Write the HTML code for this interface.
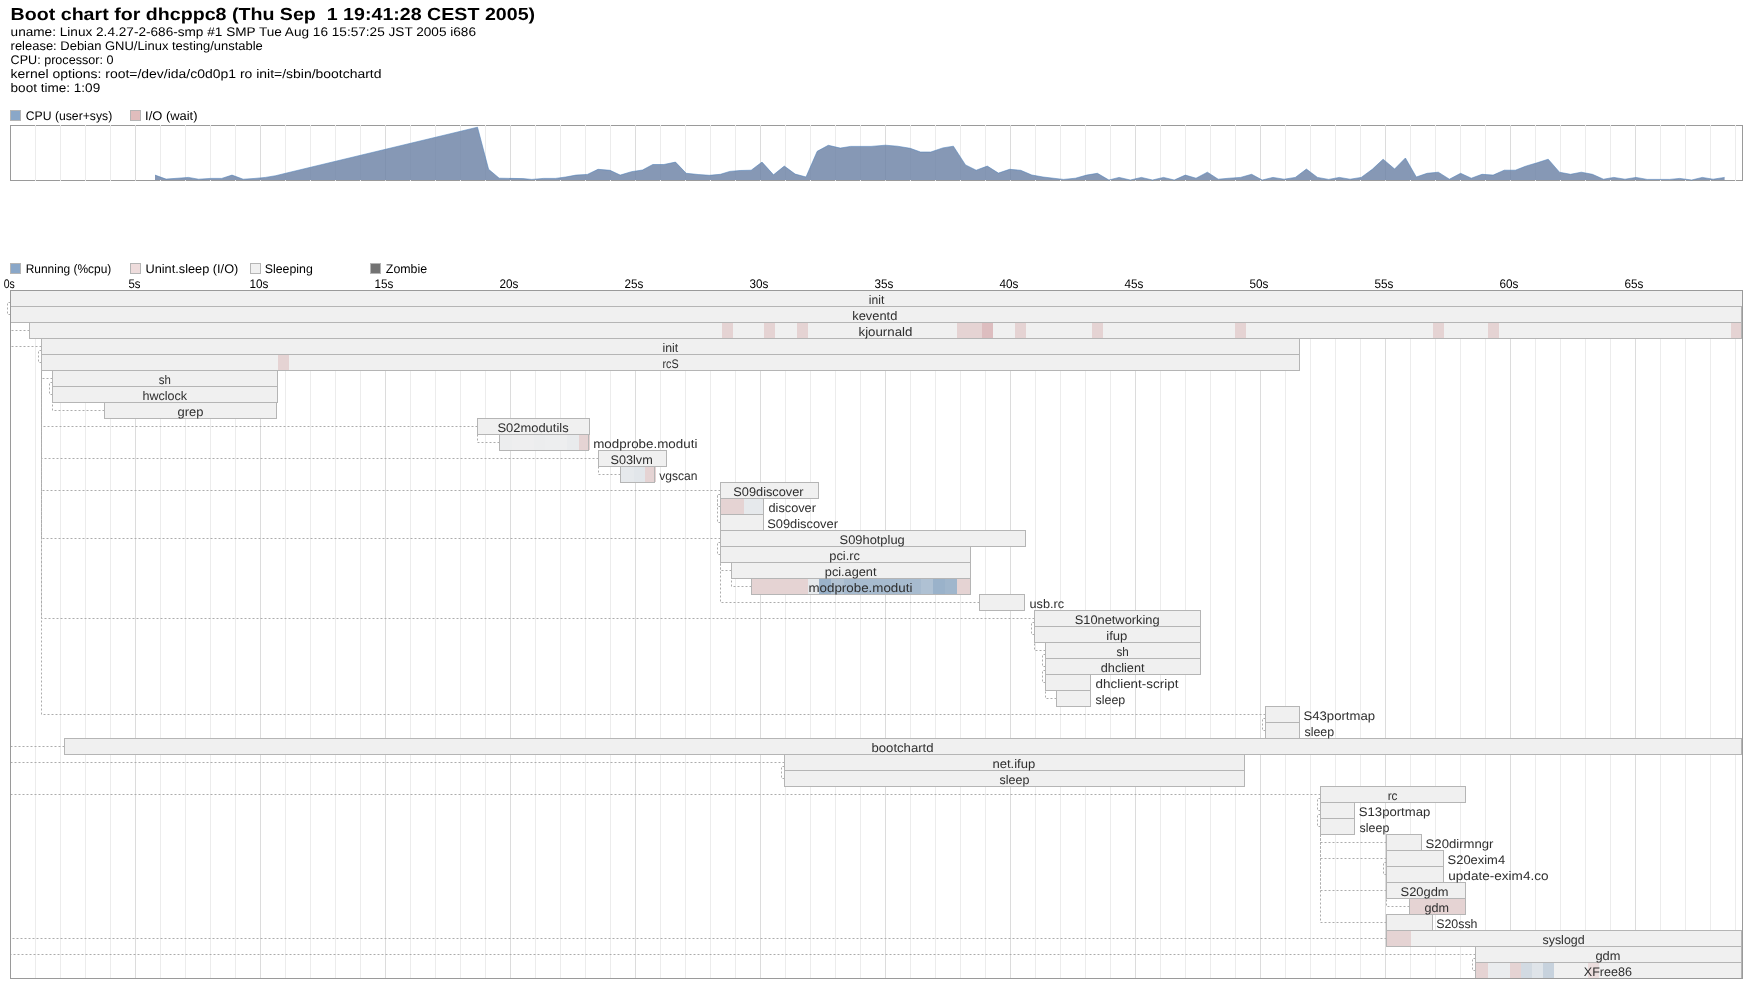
<!DOCTYPE html>
<html lang="en"><head><meta charset="utf-8"><title>Boot chart</title>
<style>html,body{margin:0;padding:0;background:#fff}svg{display:block}text{font-family:"Liberation Sans",sans-serif}</style>
</head><body>
<svg width="1752" height="988" viewBox="0 0 1752 988" shape-rendering="crispEdges" text-rendering="geometricPrecision">
<rect width="1752" height="988" fill="#fff"/>
<rect x="10.5" y="110.5" width="10" height="10" fill="#8aa7c8" stroke="#b5b5b5"/>
<rect x="130.5" y="110.5" width="10" height="10" fill="#e0bdbd" stroke="#b5b5b5"/>
<rect x="10.5" y="263.5" width="10" height="10" fill="#8aa7c8" stroke="#b5b5b5"/>
<rect x="130.5" y="263.5" width="10" height="10" fill="#eedcdc" stroke="#b5b5b5"/>
<rect x="250.5" y="263.5" width="10" height="10" fill="#f0f0f0" stroke="#b5b5b5"/>
<rect x="370.5" y="263.5" width="10" height="10" fill="#737373" stroke="#b5b5b5"/>
<rect x="10.5" y="125.5" width="1732.0" height="55.0" fill="#fff" stroke="#9a9a9a"/>
<path d="M35.5 125.0V181.0M60.5 125.0V181.0M85.5 125.0V181.0M110.5 125.0V181.0M160.5 125.0V181.0M185.5 125.0V181.0M210.5 125.0V181.0M235.5 125.0V181.0M285.5 125.0V181.0M310.5 125.0V181.0M335.5 125.0V181.0M360.5 125.0V181.0M410.5 125.0V181.0M435.5 125.0V181.0M460.5 125.0V181.0M485.5 125.0V181.0M535.5 125.0V181.0M560.5 125.0V181.0M585.5 125.0V181.0M610.5 125.0V181.0M660.5 125.0V181.0M685.5 125.0V181.0M710.5 125.0V181.0M735.5 125.0V181.0M785.5 125.0V181.0M810.5 125.0V181.0M835.5 125.0V181.0M860.5 125.0V181.0M910.5 125.0V181.0M935.5 125.0V181.0M960.5 125.0V181.0M985.5 125.0V181.0M1035.5 125.0V181.0M1060.5 125.0V181.0M1085.5 125.0V181.0M1110.5 125.0V181.0M1160.5 125.0V181.0M1185.5 125.0V181.0M1210.5 125.0V181.0M1235.5 125.0V181.0M1285.5 125.0V181.0M1310.5 125.0V181.0M1335.5 125.0V181.0M1360.5 125.0V181.0M1410.5 125.0V181.0M1435.5 125.0V181.0M1460.5 125.0V181.0M1485.5 125.0V181.0M1535.5 125.0V181.0M1560.5 125.0V181.0M1585.5 125.0V181.0M1610.5 125.0V181.0M1660.5 125.0V181.0M1685.5 125.0V181.0M1710.5 125.0V181.0M1735.5 125.0V181.0" stroke="#ececec" fill="none"/>
<path d="M135.5 125.0V181.0M260.5 125.0V181.0M385.5 125.0V181.0M510.5 125.0V181.0M635.5 125.0V181.0M760.5 125.0V181.0M885.5 125.0V181.0M1010.5 125.0V181.0M1135.5 125.0V181.0M1260.5 125.0V181.0M1385.5 125.0V181.0M1510.5 125.0V181.0M1635.5 125.0V181.0" stroke="#dcdcdc" fill="none"/>
<path d="M155 180 L155 175.1 L166.1 179.1 L178 178.2 L188.4 177.4 L198.6 179.2 L210.6 178.4 L221.7 178.4 L232 175.1 L243.2 179.2 L255 178.4 L265.4 177.4 L275.7 175.7 L290 172.2 L477.5 127.2 L488.6 169.3 L499.2 178.2 L522.9 178.6 L531.8 179.4 L543.4 178.4 L555.4 178.4 L565.7 177 L576 175.1 L587.4 174.4 L598 169.3 L610 170.3 L620.2 175.1 L631.4 171.7 L642.5 170 L652.8 164.5 L663.9 164.5 L675.5 162.1 L686.2 173.3 L698.2 174.5 L709.3 175.3 L720.4 174.3 L729.8 171.4 L740.1 170.5 L751.2 170.2 L762 162.1 L773.5 174.8 L784.3 166.1 L795.2 174.1 L806 177 L817.2 151.3 L828.3 145.3 L840.3 148.1 L850.5 146.4 L871 146.4 L885.4 145.2 L897.4 146.2 L910.2 148.3 L920.5 152 L930.8 152 L942.8 147.9 L953.4 146.2 L965.5 164.9 L976.2 170.2 L987.3 166.1 L998.4 173.1 L1009.6 169.3 L1020.7 170.3 L1031.8 175 L1043 177 L1063.5 179.4 L1075.5 178.2 L1086.6 175.1 L1097.4 173.3 L1108.9 180 L1119.1 177.4 L1130.3 180 L1141.4 177.4 L1152.5 180 L1163.5 177.4 L1174.2 180 L1185.3 175.1 L1196 178.2 L1207.4 172.2 L1218.2 179.2 L1229.3 178.2 L1240.5 177.4 L1251.6 174.3 L1262.2 180 L1273 177.4 L1284.1 179.2 L1295.3 177.4 L1306.4 169.1 L1317.5 177.4 L1328.7 179.4 L1339.3 177.4 L1350.1 179.2 L1361.2 177.4 L1372.3 169.3 L1383.1 159.2 L1394.6 169 L1405.4 158 L1416.3 177 L1427.1 173.3 L1438.3 172.2 L1449.4 179.2 L1460.6 173.3 L1471.3 178.2 L1482 174.3 L1493.1 175.1 L1504.2 170.2 L1515.4 170.2 L1526.5 165.9 L1537.1 162.8 L1548.2 159.2 L1559.5 172.2 L1570.5 174.3 L1581.3 172.2 L1592.4 174.3 L1603.5 179.2 L1613.8 177.4 L1625 179.2 L1636 177.4 L1647.2 179.4 L1669.5 179.4 L1679.7 178.4 L1691.7 180 L1702.3 177.4 L1713.1 179.2 L1724.6 177.4 L1724.6 180Z" fill="#6d83a6" fill-opacity="0.83" shape-rendering="geometricPrecision"/>
<path d="M155 175.1 L166.1 179.1 L178 178.2 L188.4 177.4 L198.6 179.2 L210.6 178.4 L221.7 178.4 L232 175.1 L243.2 179.2 L255 178.4 L265.4 177.4 L275.7 175.7 L290 172.2 L477.5 127.2 L488.6 169.3 L499.2 178.2 L522.9 178.6 L531.8 179.4 L543.4 178.4 L555.4 178.4 L565.7 177 L576 175.1 L587.4 174.4 L598 169.3 L610 170.3 L620.2 175.1 L631.4 171.7 L642.5 170 L652.8 164.5 L663.9 164.5 L675.5 162.1 L686.2 173.3 L698.2 174.5 L709.3 175.3 L720.4 174.3 L729.8 171.4 L740.1 170.5 L751.2 170.2 L762 162.1 L773.5 174.8 L784.3 166.1 L795.2 174.1 L806 177 L817.2 151.3 L828.3 145.3 L840.3 148.1 L850.5 146.4 L871 146.4 L885.4 145.2 L897.4 146.2 L910.2 148.3 L920.5 152 L930.8 152 L942.8 147.9 L953.4 146.2 L965.5 164.9 L976.2 170.2 L987.3 166.1 L998.4 173.1 L1009.6 169.3 L1020.7 170.3 L1031.8 175 L1043 177 L1063.5 179.4 L1075.5 178.2 L1086.6 175.1 L1097.4 173.3 L1108.9 180 L1119.1 177.4 L1130.3 180 L1141.4 177.4 L1152.5 180 L1163.5 177.4 L1174.2 180 L1185.3 175.1 L1196 178.2 L1207.4 172.2 L1218.2 179.2 L1229.3 178.2 L1240.5 177.4 L1251.6 174.3 L1262.2 180 L1273 177.4 L1284.1 179.2 L1295.3 177.4 L1306.4 169.1 L1317.5 177.4 L1328.7 179.4 L1339.3 177.4 L1350.1 179.2 L1361.2 177.4 L1372.3 169.3 L1383.1 159.2 L1394.6 169 L1405.4 158 L1416.3 177 L1427.1 173.3 L1438.3 172.2 L1449.4 179.2 L1460.6 173.3 L1471.3 178.2 L1482 174.3 L1493.1 175.1 L1504.2 170.2 L1515.4 170.2 L1526.5 165.9 L1537.1 162.8 L1548.2 159.2 L1559.5 172.2 L1570.5 174.3 L1581.3 172.2 L1592.4 174.3 L1603.5 179.2 L1613.8 177.4 L1625 179.2 L1636 177.4 L1647.2 179.4 L1669.5 179.4 L1679.7 178.4 L1691.7 180 L1702.3 177.4 L1713.1 179.2 L1724.6 177.4" fill="none" stroke="#4f7fb8" stroke-opacity="0.55" stroke-width="1" stroke-linejoin="round" shape-rendering="geometricPrecision"/>
<rect x="10.5" y="290.5" width="1732.0" height="688.0" fill="#fff"/>
<path d="M35.5 290.5V978.5M60.5 290.5V978.5M85.5 290.5V978.5M110.5 290.5V978.5M160.5 290.5V978.5M185.5 290.5V978.5M210.5 290.5V978.5M235.5 290.5V978.5M285.5 290.5V978.5M310.5 290.5V978.5M335.5 290.5V978.5M360.5 290.5V978.5M410.5 290.5V978.5M435.5 290.5V978.5M460.5 290.5V978.5M485.5 290.5V978.5M535.5 290.5V978.5M560.5 290.5V978.5M585.5 290.5V978.5M610.5 290.5V978.5M660.5 290.5V978.5M685.5 290.5V978.5M710.5 290.5V978.5M735.5 290.5V978.5M785.5 290.5V978.5M810.5 290.5V978.5M835.5 290.5V978.5M860.5 290.5V978.5M910.5 290.5V978.5M935.5 290.5V978.5M960.5 290.5V978.5M985.5 290.5V978.5M1035.5 290.5V978.5M1060.5 290.5V978.5M1085.5 290.5V978.5M1110.5 290.5V978.5M1160.5 290.5V978.5M1185.5 290.5V978.5M1210.5 290.5V978.5M1235.5 290.5V978.5M1285.5 290.5V978.5M1310.5 290.5V978.5M1335.5 290.5V978.5M1360.5 290.5V978.5M1410.5 290.5V978.5M1435.5 290.5V978.5M1460.5 290.5V978.5M1485.5 290.5V978.5M1535.5 290.5V978.5M1560.5 290.5V978.5M1585.5 290.5V978.5M1610.5 290.5V978.5M1660.5 290.5V978.5M1685.5 290.5V978.5M1710.5 290.5V978.5M1735.5 290.5V978.5" stroke="#ececec" fill="none"/>
<path d="M135.5 290.5V978.5M260.5 290.5V978.5M385.5 290.5V978.5M510.5 290.5V978.5M635.5 290.5V978.5M760.5 290.5V978.5M885.5 290.5V978.5M1010.5 290.5V978.5M1135.5 290.5V978.5M1260.5 290.5V978.5M1385.5 290.5V978.5M1510.5 290.5V978.5M1635.5 290.5V978.5" stroke="#dcdcdc" fill="none"/>
<path d="M10.5 314.5H7.5V302.5H10.5M29.5 330.5H10.5V306.5M41.5 346.5H10.5V306.5M41.5 362.5H38.5V350.5H41.5M52.5 378.5H41.5V370.5M52.5 394.5H49.5V382.5H52.5M104.5 410.5H52.5V402.5M477.5 426.5H41.5V370.5M499.5 442.5H477.5V434.5M598.5 458.5H41.5V370.5M620.5 474.5H598.5V466.5M720.5 490.5H41.5V370.5M720.5 506.5H717.5V494.5H720.5M720.5 522.5H717.5V494.5H720.5M720.5 538.5H41.5V370.5M720.5 554.5H717.5V542.5H720.5M731.5 570.5H720.5V562.5M751.5 586.5H731.5V578.5M979.5 602.5H720.5V562.5M1034.5 618.5H41.5V370.5M1034.5 634.5H1031.5V622.5H1034.5M1045.5 650.5H1034.5V642.5M1045.5 666.5H1042.5V654.5H1045.5M1045.5 682.5H1042.5V670.5H1045.5M1056.5 698.5H1045.5V690.5M1265.5 714.5H41.5V370.5M1265.5 730.5H1262.5V718.5H1265.5M64.5 746.5H10.5V306.5M784.5 762.5H10.5V306.5M784.5 778.5H781.5V766.5H784.5M1320.5 794.5H10.5V306.5M1320.5 810.5H1317.5V798.5H1320.5M1320.5 826.5H1317.5V814.5H1320.5M1386.5 842.5H1320.5V802.5M1386.5 858.5H1320.5V802.5M1386.5 874.5H1383.5V862.5H1386.5M1386.5 890.5H1320.5V802.5M1409.5 906.5H1386.5V898.5M1386.5 922.5H1320.5V802.5M1386.5 938.5H10.5V306.5M1475.5 954.5H10.5V306.5M1475.5 970.5H1472.5V958.5H1475.5" fill="none" stroke="#acacac" stroke-dasharray="2 2" shape-rendering="geometricPrecision"/>
<rect x="10.5" y="290.5" width="1732" height="16" fill="#f0f0f0"/>
<rect x="10.5" y="290.5" width="1732" height="16" fill="none" stroke="#b5b5b5"/>
<rect x="10.5" y="306.5" width="1731" height="16" fill="#f0f0f0"/>
<rect x="10.5" y="306.5" width="1731" height="16" fill="none" stroke="#b5b5b5"/>
<rect x="29.5" y="322.5" width="1712" height="16" fill="#f0f0f0"/>
<rect x="722" y="323.0" width="11" height="15" fill="#e5d3d3"/>
<rect x="764" y="323.0" width="11" height="15" fill="#e5d3d3"/>
<rect x="797" y="323.0" width="11" height="15" fill="#e5d3d3"/>
<rect x="957" y="323.0" width="25" height="15" fill="#e5d3d3"/>
<rect x="982" y="323.0" width="11" height="15" fill="#ddbdbf"/>
<rect x="1015" y="323.0" width="11" height="15" fill="#e5d3d3"/>
<rect x="1092" y="323.0" width="11" height="15" fill="#e5d3d3"/>
<rect x="1235" y="323.0" width="11" height="15" fill="#e5d3d3"/>
<rect x="1433" y="323.0" width="11" height="15" fill="#e5d3d3"/>
<rect x="1488" y="323.0" width="11" height="15" fill="#e5d3d3"/>
<rect x="1731" y="323.0" width="10" height="15" fill="#e5d3d3"/>
<rect x="29.5" y="322.5" width="1712" height="16" fill="none" stroke="#b5b5b5"/>
<rect x="41.5" y="338.5" width="1258" height="16" fill="#f0f0f0"/>
<rect x="41.5" y="338.5" width="1258" height="16" fill="none" stroke="#b5b5b5"/>
<rect x="41.5" y="354.5" width="1258" height="16" fill="#f0f0f0"/>
<rect x="278" y="355.0" width="11" height="15" fill="#e5d3d3"/>
<rect x="41.5" y="354.5" width="1258" height="16" fill="none" stroke="#b5b5b5"/>
<rect x="52.5" y="370.5" width="225" height="16" fill="#f0f0f0"/>
<rect x="52.5" y="370.5" width="225" height="16" fill="none" stroke="#b5b5b5"/>
<rect x="52.5" y="386.5" width="225" height="16" fill="#f0f0f0"/>
<rect x="52.5" y="386.5" width="225" height="16" fill="none" stroke="#b5b5b5"/>
<rect x="104.5" y="402.5" width="172" height="16" fill="#f0f0f0"/>
<rect x="104.5" y="402.5" width="172" height="16" fill="none" stroke="#b5b5b5"/>
<rect x="477.5" y="418.5" width="112" height="16" fill="#f0f0f0"/>
<rect x="477.5" y="418.5" width="112" height="16" fill="none" stroke="#b5b5b5"/>
<rect x="499.5" y="434.5" width="89" height="16" fill="#f0f0f0"/>
<rect x="499" y="435.0" width="13" height="15" fill="#ecedee"/>
<rect x="512" y="435.0" width="22" height="15" fill="#eeeeef"/>
<rect x="534" y="435.0" width="11" height="15" fill="#ecedee"/>
<rect x="545" y="435.0" width="22" height="15" fill="#edeeef"/>
<rect x="567" y="435.0" width="12" height="15" fill="#e9ebed"/>
<rect x="579" y="435.0" width="10.5" height="15" fill="#e5d3d3"/>
<rect x="499.5" y="434.5" width="89" height="16" fill="none" stroke="#b5b5b5"/>
<rect x="598.5" y="450.5" width="68" height="16" fill="#f0f0f0"/>
<rect x="598.5" y="450.5" width="68" height="16" fill="none" stroke="#b5b5b5"/>
<rect x="620.5" y="466.5" width="34" height="16" fill="#f0f0f0"/>
<rect x="620" y="467.0" width="14" height="15" fill="#e6e9ec"/>
<rect x="634" y="467.0" width="11" height="15" fill="#e2e6ea"/>
<rect x="645" y="467.0" width="10.5" height="15" fill="#e5d3d3"/>
<rect x="620.5" y="466.5" width="34" height="16" fill="none" stroke="#b5b5b5"/>
<rect x="720.5" y="482.5" width="98" height="16" fill="#f0f0f0"/>
<rect x="720.5" y="482.5" width="98" height="16" fill="none" stroke="#b5b5b5"/>
<rect x="720.5" y="498.5" width="43" height="16" fill="#f0f0f0"/>
<rect x="720" y="499.0" width="24" height="15" fill="#e5d3d3"/>
<rect x="744" y="499.0" width="19" height="15" fill="#e6e9ec"/>
<rect x="720.5" y="498.5" width="43" height="16" fill="none" stroke="#b5b5b5"/>
<rect x="720.5" y="514.5" width="43" height="16" fill="#f0f0f0"/>
<rect x="720.5" y="514.5" width="43" height="16" fill="none" stroke="#b5b5b5"/>
<rect x="720.5" y="530.5" width="305" height="16" fill="#f0f0f0"/>
<rect x="720.5" y="530.5" width="305" height="16" fill="none" stroke="#b5b5b5"/>
<rect x="720.5" y="546.5" width="250" height="16" fill="#f0f0f0"/>
<rect x="720.5" y="546.5" width="250" height="16" fill="none" stroke="#b5b5b5"/>
<rect x="731.5" y="562.5" width="239" height="16" fill="#f0f0f0"/>
<rect x="731.5" y="562.5" width="239" height="16" fill="none" stroke="#b5b5b5"/>
<rect x="751.5" y="578.5" width="219" height="16" fill="#f0f0f0"/>
<rect x="751" y="579.0" width="57" height="15" fill="#e5d3d3"/>
<rect x="808" y="579.0" width="11" height="15" fill="#e6e9ec"/>
<rect x="819" y="579.0" width="12" height="15" fill="#9ab2ca"/>
<rect x="831" y="579.0" width="13" height="15" fill="#b2c3d4"/>
<rect x="844" y="579.0" width="77" height="15" fill="#a7bbcf"/>
<rect x="921" y="579.0" width="12" height="15" fill="#afc1d3"/>
<rect x="933" y="579.0" width="12" height="15" fill="#9ab2ca"/>
<rect x="945" y="579.0" width="12" height="15" fill="#a0b6cc"/>
<rect x="957" y="579.0" width="13" height="15" fill="#e5d3d3"/>
<rect x="751.5" y="578.5" width="219" height="16" fill="none" stroke="#b5b5b5"/>
<rect x="979.5" y="594.5" width="45" height="16" fill="#f0f0f0"/>
<rect x="979.5" y="594.5" width="45" height="16" fill="none" stroke="#b5b5b5"/>
<rect x="1034.5" y="610.5" width="166" height="16" fill="#f0f0f0"/>
<rect x="1034.5" y="610.5" width="166" height="16" fill="none" stroke="#b5b5b5"/>
<rect x="1034.5" y="626.5" width="166" height="16" fill="#f0f0f0"/>
<rect x="1034.5" y="626.5" width="166" height="16" fill="none" stroke="#b5b5b5"/>
<rect x="1045.5" y="642.5" width="155" height="16" fill="#f0f0f0"/>
<rect x="1045.5" y="642.5" width="155" height="16" fill="none" stroke="#b5b5b5"/>
<rect x="1045.5" y="658.5" width="155" height="16" fill="#f0f0f0"/>
<rect x="1045.5" y="658.5" width="155" height="16" fill="none" stroke="#b5b5b5"/>
<rect x="1045.5" y="674.5" width="45" height="16" fill="#f0f0f0"/>
<rect x="1045.5" y="674.5" width="45" height="16" fill="none" stroke="#b5b5b5"/>
<rect x="1056.5" y="690.5" width="34" height="16" fill="#f0f0f0"/>
<rect x="1056.5" y="690.5" width="34" height="16" fill="none" stroke="#b5b5b5"/>
<rect x="1265.5" y="706.5" width="34" height="16" fill="#f0f0f0"/>
<rect x="1265.5" y="706.5" width="34" height="16" fill="none" stroke="#b5b5b5"/>
<rect x="1265.5" y="722.5" width="34" height="16" fill="#f0f0f0"/>
<rect x="1265.5" y="722.5" width="34" height="16" fill="none" stroke="#b5b5b5"/>
<rect x="64.5" y="738.5" width="1677" height="16" fill="#f0f0f0"/>
<rect x="64.5" y="738.5" width="1677" height="16" fill="none" stroke="#b5b5b5"/>
<rect x="784.5" y="754.5" width="460" height="16" fill="#f0f0f0"/>
<rect x="784.5" y="754.5" width="460" height="16" fill="none" stroke="#b5b5b5"/>
<rect x="784.5" y="770.5" width="460" height="16" fill="#f0f0f0"/>
<rect x="784.5" y="770.5" width="460" height="16" fill="none" stroke="#b5b5b5"/>
<rect x="1320.5" y="786.5" width="145" height="16" fill="#f0f0f0"/>
<rect x="1320.5" y="786.5" width="145" height="16" fill="none" stroke="#b5b5b5"/>
<rect x="1320.5" y="802.5" width="34" height="16" fill="#f0f0f0"/>
<rect x="1320.5" y="802.5" width="34" height="16" fill="none" stroke="#b5b5b5"/>
<rect x="1320.5" y="818.5" width="34" height="16" fill="#f0f0f0"/>
<rect x="1320.5" y="818.5" width="34" height="16" fill="none" stroke="#b5b5b5"/>
<rect x="1386.5" y="834.5" width="35" height="16" fill="#f0f0f0"/>
<rect x="1386.5" y="834.5" width="35" height="16" fill="none" stroke="#b5b5b5"/>
<rect x="1386.5" y="850.5" width="57" height="16" fill="#f0f0f0"/>
<rect x="1386.5" y="850.5" width="57" height="16" fill="none" stroke="#b5b5b5"/>
<rect x="1386.5" y="866.5" width="57" height="16" fill="#f0f0f0"/>
<rect x="1386.5" y="866.5" width="57" height="16" fill="none" stroke="#b5b5b5"/>
<rect x="1386.5" y="882.5" width="79" height="16" fill="#f0f0f0"/>
<rect x="1386.5" y="882.5" width="79" height="16" fill="none" stroke="#b5b5b5"/>
<rect x="1409.5" y="898.5" width="56" height="16" fill="#f0f0f0"/>
<rect x="1409" y="899.0" width="56" height="15" fill="#e5d3d3"/>
<rect x="1409.5" y="898.5" width="56" height="16" fill="none" stroke="#b5b5b5"/>
<rect x="1386.5" y="914.5" width="46" height="16" fill="#f0f0f0"/>
<rect x="1386.5" y="914.5" width="46" height="16" fill="none" stroke="#b5b5b5"/>
<rect x="1386.5" y="930.5" width="355" height="16" fill="#f0f0f0"/>
<rect x="1386" y="931.0" width="25" height="15" fill="#e5d3d3"/>
<rect x="1386.5" y="930.5" width="355" height="16" fill="none" stroke="#b5b5b5"/>
<rect x="1475.5" y="946.5" width="266" height="16" fill="#f0f0f0"/>
<rect x="1475.5" y="946.5" width="266" height="16" fill="none" stroke="#b5b5b5"/>
<rect x="1475.5" y="962.5" width="266" height="16" fill="#f0f0f0"/>
<rect x="1475" y="963.0" width="13" height="15" fill="#e5d3d3"/>
<rect x="1488" y="963.0" width="22" height="15" fill="#eaecee"/>
<rect x="1510" y="963.0" width="11" height="15" fill="#e5d3d3"/>
<rect x="1521" y="963.0" width="11" height="15" fill="#d2dae2"/>
<rect x="1532" y="963.0" width="11" height="15" fill="#dfe4e9"/>
<rect x="1543" y="963.0" width="11" height="15" fill="#c7d2dd"/>
<rect x="1588" y="963.0" width="11" height="15" fill="#ebdddd"/>
<rect x="1475.5" y="962.5" width="266" height="16" fill="none" stroke="#b5b5b5"/>
<path d="M10.5 290.5H1742.5V978.5H10.5Z" fill="none" stroke="#9a9a9a"/>
<g style="filter:grayscale(1);will-change:transform">
<text x="10.6" y="19.7" font-size="17.4" fill="#000" xml:space="preserve" textLength="524.5" lengthAdjust="spacingAndGlyphs" font-weight="bold">Boot chart for dhcppc8 (Thu Sep  1 19:41:28 CEST 2005)</text>
<text x="10.6" y="36.0" font-size="12.5" fill="#000" xml:space="preserve" textLength="465.4" lengthAdjust="spacingAndGlyphs">uname: Linux 2.4.27-2-686-smp #1 SMP Tue Aug 16 15:57:25 JST 2005 i686</text>
<text x="10.6" y="50.0" font-size="12.5" fill="#000" xml:space="preserve" textLength="252.2" lengthAdjust="spacingAndGlyphs">release: Debian GNU/Linux testing/unstable</text>
<text x="10.6" y="64.0" font-size="12.5" fill="#000" xml:space="preserve" textLength="102.8" lengthAdjust="spacingAndGlyphs">CPU: processor: 0</text>
<text x="10.6" y="78.0" font-size="12.5" fill="#000" xml:space="preserve" textLength="370.9" lengthAdjust="spacingAndGlyphs">kernel options: root=/dev/ida/c0d0p1 ro init=/sbin/bootchartd</text>
<text x="10.6" y="92.0" font-size="12.5" fill="#000" xml:space="preserve" textLength="89.6" lengthAdjust="spacingAndGlyphs">boot time: 1:09</text>
<text x="25.8" y="120.0" font-size="12.5" fill="#000" xml:space="preserve" textLength="86.4" lengthAdjust="spacingAndGlyphs">CPU (user+sys)</text>
<text x="145.1" y="120.0" font-size="12.5" fill="#000" xml:space="preserve" textLength="52.4" lengthAdjust="spacingAndGlyphs">I/O (wait)</text>
<text x="25.7" y="273.0" font-size="12.5" fill="#000" xml:space="preserve" textLength="85.6" lengthAdjust="spacingAndGlyphs">Running (%cpu)</text>
<text x="145.5" y="273.0" font-size="12.5" fill="#000" xml:space="preserve" textLength="92.8" lengthAdjust="spacingAndGlyphs">Unint.sleep (I/O)</text>
<text x="264.8" y="273.0" font-size="12.5" fill="#000" xml:space="preserve" textLength="48.0" lengthAdjust="spacingAndGlyphs">Sleeping</text>
<text x="385.8" y="273.0" font-size="12.5" fill="#000" xml:space="preserve" textLength="41.4" lengthAdjust="spacingAndGlyphs">Zombie</text>
<text x="3.7" y="288.0" font-size="12.5" fill="#000" xml:space="preserve" textLength="11.1" lengthAdjust="spacingAndGlyphs">0s</text>
<text x="128.4" y="288.0" font-size="12.5" fill="#000" xml:space="preserve" textLength="12.0" lengthAdjust="spacingAndGlyphs">5s</text>
<text x="249.5" y="288.0" font-size="12.5" fill="#000" xml:space="preserve" textLength="18.9" lengthAdjust="spacingAndGlyphs">10s</text>
<text x="374.5" y="288.0" font-size="12.5" fill="#000" xml:space="preserve" textLength="18.9" lengthAdjust="spacingAndGlyphs">15s</text>
<text x="499.5" y="288.0" font-size="12.5" fill="#000" xml:space="preserve" textLength="18.9" lengthAdjust="spacingAndGlyphs">20s</text>
<text x="624.5" y="288.0" font-size="12.5" fill="#000" xml:space="preserve" textLength="18.9" lengthAdjust="spacingAndGlyphs">25s</text>
<text x="749.5" y="288.0" font-size="12.5" fill="#000" xml:space="preserve" textLength="18.9" lengthAdjust="spacingAndGlyphs">30s</text>
<text x="874.5" y="288.0" font-size="12.5" fill="#000" xml:space="preserve" textLength="18.9" lengthAdjust="spacingAndGlyphs">35s</text>
<text x="999.5" y="288.0" font-size="12.5" fill="#000" xml:space="preserve" textLength="18.9" lengthAdjust="spacingAndGlyphs">40s</text>
<text x="1124.5" y="288.0" font-size="12.5" fill="#000" xml:space="preserve" textLength="18.9" lengthAdjust="spacingAndGlyphs">45s</text>
<text x="1249.5" y="288.0" font-size="12.5" fill="#000" xml:space="preserve" textLength="18.9" lengthAdjust="spacingAndGlyphs">50s</text>
<text x="1374.5" y="288.0" font-size="12.5" fill="#000" xml:space="preserve" textLength="18.9" lengthAdjust="spacingAndGlyphs">55s</text>
<text x="1499.5" y="288.0" font-size="12.5" fill="#000" xml:space="preserve" textLength="18.9" lengthAdjust="spacingAndGlyphs">60s</text>
<text x="1624.5" y="288.0" font-size="12.5" fill="#000" xml:space="preserve" textLength="18.9" lengthAdjust="spacingAndGlyphs">65s</text>
<text x="868.8" y="303.8" font-size="12.4" fill="#2e2e2e" xml:space="preserve" textLength="15.5" lengthAdjust="spacingAndGlyphs">init</text>
<text x="852.3" y="319.8" font-size="12.4" fill="#2e2e2e" xml:space="preserve" textLength="45.0" lengthAdjust="spacingAndGlyphs">keventd</text>
<text x="858.5" y="335.8" font-size="12.4" fill="#2e2e2e" xml:space="preserve" textLength="53.9" lengthAdjust="spacingAndGlyphs">kjournald</text>
<text x="662.5" y="351.8" font-size="12.4" fill="#2e2e2e" xml:space="preserve" textLength="15.7" lengthAdjust="spacingAndGlyphs">init</text>
<text x="662.5" y="367.8" font-size="12.4" fill="#2e2e2e" xml:space="preserve" textLength="16.1" lengthAdjust="spacingAndGlyphs">rcS</text>
<text x="158.7" y="383.8" font-size="12.4" fill="#2e2e2e" xml:space="preserve" textLength="12.1" lengthAdjust="spacingAndGlyphs">sh</text>
<text x="142.4" y="399.8" font-size="12.4" fill="#2e2e2e" xml:space="preserve" textLength="44.7" lengthAdjust="spacingAndGlyphs">hwclock</text>
<text x="177.5" y="415.8" font-size="12.4" fill="#2e2e2e" xml:space="preserve" textLength="25.9" lengthAdjust="spacingAndGlyphs">grep</text>
<text x="497.5" y="431.8" font-size="12.4" fill="#2e2e2e" xml:space="preserve" textLength="71.1" lengthAdjust="spacingAndGlyphs">S02modutils</text>
<text x="593.2" y="447.8" font-size="12.4" fill="#2e2e2e" xml:space="preserve" textLength="104.2" lengthAdjust="spacingAndGlyphs">modprobe.moduti</text>
<text x="610.5" y="463.8" font-size="12.4" fill="#2e2e2e" xml:space="preserve" textLength="42.2" lengthAdjust="spacingAndGlyphs">S03lvm</text>
<text x="659.2" y="479.8" font-size="12.4" fill="#2e2e2e" xml:space="preserve" textLength="38.2" lengthAdjust="spacingAndGlyphs">vgscan</text>
<text x="733.3" y="495.8" font-size="12.4" fill="#2e2e2e" xml:space="preserve" textLength="70.3" lengthAdjust="spacingAndGlyphs">S09discover</text>
<text x="768.5" y="511.8" font-size="12.4" fill="#2e2e2e" xml:space="preserve" textLength="47.4" lengthAdjust="spacingAndGlyphs">discover</text>
<text x="767.2" y="527.8" font-size="12.4" fill="#2e2e2e" xml:space="preserve" textLength="70.8" lengthAdjust="spacingAndGlyphs">S09discover</text>
<text x="839.6" y="543.8" font-size="12.4" fill="#2e2e2e" xml:space="preserve" textLength="65.1" lengthAdjust="spacingAndGlyphs">S09hotplug</text>
<text x="829.3" y="559.8" font-size="12.4" fill="#2e2e2e" xml:space="preserve" textLength="30.7" lengthAdjust="spacingAndGlyphs">pci.rc</text>
<text x="824.8" y="575.8" font-size="12.4" fill="#2e2e2e" xml:space="preserve" textLength="51.7" lengthAdjust="spacingAndGlyphs">pci.agent</text>
<text x="808.4" y="591.8" font-size="12.4" fill="#2e2e2e" xml:space="preserve" textLength="104.0" lengthAdjust="spacingAndGlyphs">modprobe.moduti</text>
<text x="1029.5" y="607.8" font-size="12.4" fill="#2e2e2e" xml:space="preserve" textLength="34.6" lengthAdjust="spacingAndGlyphs">usb.rc</text>
<text x="1074.7" y="623.8" font-size="12.4" fill="#2e2e2e" xml:space="preserve" textLength="84.9" lengthAdjust="spacingAndGlyphs">S10networking</text>
<text x="1106.3" y="639.8" font-size="12.4" fill="#2e2e2e" xml:space="preserve" textLength="21.1" lengthAdjust="spacingAndGlyphs">ifup</text>
<text x="1116.4" y="655.8" font-size="12.4" fill="#2e2e2e" xml:space="preserve" textLength="12.3" lengthAdjust="spacingAndGlyphs">sh</text>
<text x="1100.8" y="671.8" font-size="12.4" fill="#2e2e2e" xml:space="preserve" textLength="43.7" lengthAdjust="spacingAndGlyphs">dhclient</text>
<text x="1095.5" y="687.8" font-size="12.4" fill="#2e2e2e" xml:space="preserve" textLength="82.9" lengthAdjust="spacingAndGlyphs">dhclient-script</text>
<text x="1095.5" y="703.8" font-size="12.4" fill="#2e2e2e" xml:space="preserve" textLength="29.7" lengthAdjust="spacingAndGlyphs">sleep</text>
<text x="1303.5" y="719.8" font-size="12.4" fill="#2e2e2e" xml:space="preserve" textLength="71.5" lengthAdjust="spacingAndGlyphs">S43portmap</text>
<text x="1304.5" y="735.8" font-size="12.4" fill="#2e2e2e" xml:space="preserve" textLength="29.6" lengthAdjust="spacingAndGlyphs">sleep</text>
<text x="871.5" y="751.8" font-size="12.4" fill="#2e2e2e" xml:space="preserve" textLength="62.0" lengthAdjust="spacingAndGlyphs">bootchartd</text>
<text x="992.4" y="767.8" font-size="12.4" fill="#2e2e2e" xml:space="preserve" textLength="42.8" lengthAdjust="spacingAndGlyphs">net.ifup</text>
<text x="999.6" y="783.8" font-size="12.4" fill="#2e2e2e" xml:space="preserve" textLength="29.8" lengthAdjust="spacingAndGlyphs">sleep</text>
<text x="1387.7" y="799.8" font-size="12.4" fill="#2e2e2e" xml:space="preserve" textLength="9.8" lengthAdjust="spacingAndGlyphs">rc</text>
<text x="1358.8" y="815.8" font-size="12.4" fill="#2e2e2e" xml:space="preserve" textLength="71.5" lengthAdjust="spacingAndGlyphs">S13portmap</text>
<text x="1359.6" y="831.8" font-size="12.4" fill="#2e2e2e" xml:space="preserve" textLength="29.7" lengthAdjust="spacingAndGlyphs">sleep</text>
<text x="1425.6" y="847.8" font-size="12.4" fill="#2e2e2e" xml:space="preserve" textLength="67.9" lengthAdjust="spacingAndGlyphs">S20dirmngr</text>
<text x="1447.6" y="863.8" font-size="12.4" fill="#2e2e2e" xml:space="preserve" textLength="57.5" lengthAdjust="spacingAndGlyphs">S20exim4</text>
<text x="1448.3" y="879.8" font-size="12.4" fill="#2e2e2e" xml:space="preserve" textLength="100.2" lengthAdjust="spacingAndGlyphs">update-exim4.co</text>
<text x="1400.6" y="895.8" font-size="12.4" fill="#2e2e2e" xml:space="preserve" textLength="48.0" lengthAdjust="spacingAndGlyphs">S20gdm</text>
<text x="1424.6" y="911.8" font-size="12.4" fill="#2e2e2e" xml:space="preserve" textLength="24.5" lengthAdjust="spacingAndGlyphs">gdm</text>
<text x="1436.2" y="927.8" font-size="12.4" fill="#2e2e2e" xml:space="preserve" textLength="41.3" lengthAdjust="spacingAndGlyphs">S20ssh</text>
<text x="1542.5" y="943.8" font-size="12.4" fill="#2e2e2e" xml:space="preserve" textLength="42.1" lengthAdjust="spacingAndGlyphs">syslogd</text>
<text x="1595.4" y="959.8" font-size="12.4" fill="#2e2e2e" xml:space="preserve" textLength="25.0" lengthAdjust="spacingAndGlyphs">gdm</text>
<text x="1583.8" y="975.8" font-size="12.4" fill="#2e2e2e" xml:space="preserve" textLength="48.2" lengthAdjust="spacingAndGlyphs">XFree86</text>
</g>
</svg>
</body></html>
